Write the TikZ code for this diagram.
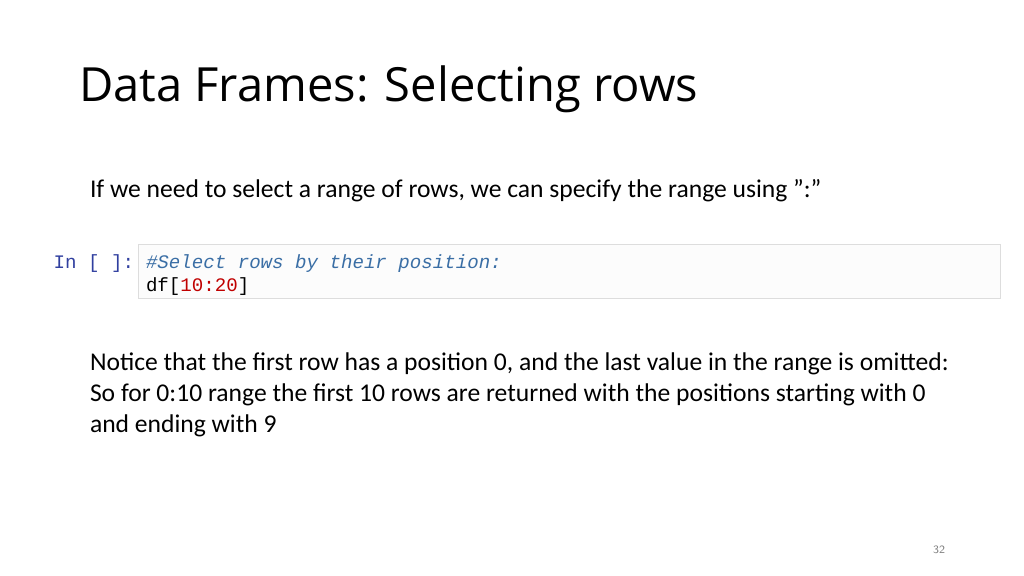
\documentclass[tikz,border=0pt]{standalone}
\usepackage{fontspec}
\setmainfont{Carlito}
\newfontfamily\titlefont{Open Sans}
\setmonofont{Liberation Mono}
\usetikzlibrary{positioning}
\definecolor{promptblue}{HTML}{303F9F}
\definecolor{commentblue}{HTML}{3A6EA5}
\definecolor{numred}{HTML}{C00000}
\definecolor{cellborder}{HTML}{DDDDDD}
\definecolor{cellfill}{HTML}{FCFCFC}

\begin{document}
\begin{tikzpicture}[x=0.025cm,y=-0.025cm,inner sep=0pt,outer sep=0pt]
    \tikzset{
      slidetitle/.style={anchor=base west,font=\titlefont\fontsize{33.5}{40}\selectfont},
      bodytext/.style={anchor=base west,font=\fontsize{18.2}{22.3}\selectfont},
      codeline/.style={anchor=base west,font=\ttfamily\fontsize{13.6}{16}\selectfont},
      codecell/.style={draw=cellborder,fill=cellfill,line width=0.6pt}
    }
    \useasboundingbox (0,0) rectangle (1024,575);

    % Title
    \node [slidetitle] (title) at (79,101) {Data Frames: Selecting rows};

    % Intro
    \node [bodytext] (intro) at (90,197)
        {If we need to select a range of rows, we can specify the range using \symbol{34}:\symbol{34}};

    % Code cell
    \node [codecell,minimum width=862*0.025cm,minimum height=54*0.025cm,anchor=north west]
        (cell) at (138,244) {};
    \node [codeline,text=promptblue,anchor=base east] (prompt) at (134,268) {In [ ]:};
    \node [codeline,text=commentblue] (comment) at (146,268) {\itshape\#Select rows by their position:};
    \node [codeline] (code) at (146,291) {df[\textcolor{numred}{10:20}]};

    % Notes
    \node [bodytext] (notes1) at (90,370)
        {Notice that the first row has a position 0, and the last value in the range is omitted:};
    \node [bodytext] (notes2) at (90,401)
        {So for 0:10 range the first 10 rows are returned with the positions starting with 0};
    \node [bodytext] (notes3) at (90,432) {and ending with 9};

    % Page number
    \node [anchor=base east,text=gray,font=\sffamily\fontsize{8}{10}\selectfont] (page) at (945,553) {32};
\end{tikzpicture}
\end{document}
